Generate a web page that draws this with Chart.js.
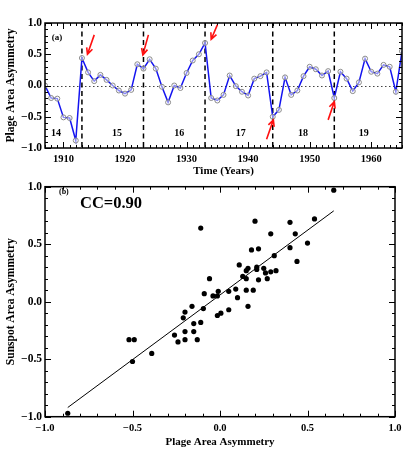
<!DOCTYPE html>
<html>
<head>
<meta charset="utf-8">
<script src="https://cdn.jsdelivr.net/npm/chart.js@4.4.1/dist/chart.umd.min.js"></script>
<style>
  html, body { margin: 0; padding: 0; background: #fff; }
  #wrap { position: relative; width: 407px; height: 465px; overflow: hidden; }
  canvas { position: absolute; left: 0; }
  #top { top: 0; }
  #bottom { top: 175px; }
</style>
</head>
<body>
<div id="wrap">
  <canvas id="top" width="407" height="180"></canvas>
  <canvas id="bottom" width="407" height="290"></canvas>
</div>
<script>
// panel (a): yearly plage area asymmetry
const years = [1907, 1908, 1909, 1910, 1911, 1912, 1913, 1914, 1915, 1916,
  1917, 1918, 1919, 1920, 1921, 1922, 1923, 1924, 1925, 1926,
  1927, 1928, 1929, 1930, 1931, 1932, 1933, 1934, 1935, 1936,
  1937, 1938, 1939, 1940, 1941, 1942, 1943, 1944, 1945, 1946,
  1947, 1948, 1949, 1950, 1951, 1952, 1953, 1954, 1955, 1956,
  1957, 1958, 1959, 1960, 1961, 1962, 1963, 1964, 1965];
const plageAsym = [0.00, -0.20, -0.21, -0.51, -0.52, -0.88, 0.44, 0.21, 0.07, 0.17,
  0.09, 0.00, -0.08, -0.13, -0.07, 0.34, 0.27, 0.42, 0.27, -0.02,
  -0.27, 0.00, -0.04, 0.20, 0.40, 0.50, 0.68, -0.20, -0.24, -0.15,
  0.16, -0.01, -0.10, -0.16, 0.11, 0.15, 0.21, -0.50, -0.39, 0.13,
  -0.15, -0.08, 0.15, 0.30, 0.26, 0.16, 0.23, -0.20, 0.22, 0.11,
  -0.09, 0.05, 0.43, 0.22, 0.19, 0.33, 0.30, -0.10, 0.55];
const cycleMinima = [1913, 1923, 1933, 1944, 1954];
const cycleNames = ['14', '15', '16', '17', '18', '19'];
const cycleNameYears = [1908.8, 1918.7, 1928.8, 1938.8, 1948.9, 1958.8];
const arrowFrom = [[1915.0, 0.81], [1923.8, 0.81], [1935.0, 0.97], [1943.0, -0.86], [1953.0, -0.55]];
const arrowTo = [[1913.9, 0.50], [1922.9, 0.49], [1934.0, 0.74], [1944.1, -0.55], [1954.0, -0.26]];
const yearTicks = [1910, 1920, 1930, 1940, 1950, 1960];
const asymTicks = [-1, -0.5, 0, 0.5, 1];

// panel (b): plage vs sunspot asymmetry
const plageX = [0.65, -0.11, 0.20, 0.40, 0.54, 0.29, 0.43, 0.50, 0.40, 0.18,
  0.22, 0.31, 0.44, 0.11, 0.16, 0.15, 0.21, 0.21, 0.25, 0.26,
  0.29, 0.32, 0.13, 0.15, 0.22, 0.27, -0.06, -0.09, 0.09, 0.05,
  -0.01, 0.15, 0.19, -0.04, -0.015, 0.10, -0.095, 0.05, 0.16, -0.015,
  0.005, -0.11, -0.16, -0.20, -0.21, -0.15, -0.20, -0.15, -0.26, -0.24,
  -0.20, -0.13, -0.52, -0.49, -0.39, -0.50, -0.87];
const sunspotY = [0.97, 0.64, 0.70, 0.69, 0.72, 0.59, 0.59, 0.51, 0.47, 0.45,
  0.46, 0.40, 0.35, 0.32, 0.29, 0.27, 0.30, 0.28, 0.29, 0.25,
  0.26, 0.27, 0.22, 0.20, 0.19, 0.20, 0.20, 0.07, 0.11, 0.09,
  0.09, 0.10, 0.10, 0.05, 0.05, 0.035, -0.06, -0.07, -0.04, -0.12,
  -0.10, -0.18, -0.04, -0.09, -0.14, -0.19, -0.26, -0.26, -0.29, -0.35,
  -0.33, -0.33, -0.33, -0.33, -0.45, -0.52, -0.97];
const fitX = [-0.87, 0.65];
const fitY = [-0.92, 0.79];

const serif = "'Liberation Serif', 'Times New Roman', serif";
const bold = (size) => ({ family: serif, size: size, weight: 'bold' });
const fmtAsym = (v) => (v < 0 ? '\u2212' : '') + Math.abs(v).toFixed(1);

function stepVals(min, max, step) {
  const out = [];
  for (let k = Math.ceil(min / step - 1e-9); k * step <= max + 1e-9; k++) out.push(k * step);
  return out;
}
function isMajor(v, major) {
  return Math.abs(v / major - Math.round(v / major)) < 1e-6;
}

// frame, inside ticks, guide lines, arrows and labels
const decor = {
  id: 'decor',
  beforeDatasetsDraw(chart, args, o) {
    const { ctx, chartArea: a, scales: { x, y } } = chart;
    ctx.save();
    if (o.zeroLine) {
      ctx.strokeStyle = '#444';
      ctx.lineWidth = 1;
      ctx.setLineDash([1.5, 2.5]);
      const py = Math.round(y.getPixelForValue(0)) + 0.5;
      ctx.beginPath(); ctx.moveTo(a.left, py); ctx.lineTo(a.right, py); ctx.stroke();
    }
    ctx.strokeStyle = '#000';
    ctx.lineWidth = 1.5;
    ctx.setLineDash([5, 3.5]);
    (o.vlines || []).forEach(v => {
      const px = x.getPixelForValue(v);
      ctx.beginPath(); ctx.moveTo(px, a.top); ctx.lineTo(px, a.bottom); ctx.stroke();
    });
    ctx.restore();
  },
  afterDatasetsDraw(chart, args, o) {
    const { ctx, chartArea: a, scales: { x, y } } = chart;
    ctx.save();
    ctx.strokeStyle = '#000';
    ctx.lineWidth = 1.5;
    ctx.strokeRect(a.left, a.top, a.right - a.left, a.bottom - a.top);

    ctx.lineWidth = 1;
    ctx.beginPath();
    stepVals(x.min, x.max, o.xMinor).forEach(v => {
      const len = isMajor(v, o.xMajor) ? 6 : 3;
      const px = Math.round(x.getPixelForValue(v)) + 0.5;
      ctx.moveTo(px, a.bottom); ctx.lineTo(px, a.bottom - len);
      ctx.moveTo(px, a.top); ctx.lineTo(px, a.top + len);
    });
    stepVals(y.min, y.max, o.yMinor).forEach(v => {
      const len = isMajor(v, o.yMajor) ? 6 : 3;
      const py = Math.round(y.getPixelForValue(v)) + 0.5;
      ctx.moveTo(a.left, py); ctx.lineTo(a.left + len, py);
      ctx.moveTo(a.right, py); ctx.lineTo(a.right - len, py);
    });
    ctx.stroke();

    (o.arrows || []).forEach(([from, to]) => {
      const x0 = x.getPixelForValue(from[0]), y0 = y.getPixelForValue(from[1]);
      const x1 = x.getPixelForValue(to[0]), y1 = y.getPixelForValue(to[1]);
      const ang = Math.atan2(y1 - y0, x1 - x0);
      ctx.strokeStyle = '#ff1010';
      ctx.lineWidth = 1.6;
      ctx.beginPath();
      ctx.moveTo(x0, y0); ctx.lineTo(x1, y1);
      ctx.moveTo(x1 - 7 * Math.cos(ang - 0.45), y1 - 7 * Math.sin(ang - 0.45));
      ctx.lineTo(x1, y1);
      ctx.lineTo(x1 - 7 * Math.cos(ang + 0.45), y1 - 7 * Math.sin(ang + 0.45));
      ctx.stroke();
    });

    ctx.fillStyle = '#000';
    ctx.textBaseline = 'middle';
    (o.texts || []).forEach(t => {
      ctx.font = 'bold ' + t.size + 'px ' + serif;
      ctx.textAlign = t.align || 'left';
      ctx.fillText(t.text, x.getPixelForValue(t.x), y.getPixelForValue(t.y));
    });
    ctx.restore();
  }
};

const baseOptions = {
  responsive: false,
  animation: false,
  devicePixelRatio: 1,
  events: []
};

// top panel
new Chart(document.getElementById('top'), {
  type: 'line',
  data: {
    datasets: [{
      data: years.map((yr, i) => ({ x: yr, y: plageAsym[i] })),
      borderColor: '#1414f0',
      borderWidth: 1.5,
      tension: 0,
      pointRadius: 2.5,
      pointBorderWidth: 1,
      pointBorderColor: '#8a8a8a',
      pointBackgroundColor: 'rgba(255,255,255,0.5)'
    }]
  },
  options: {
    ...baseOptions,
    layout: { padding: { left: 0, top: 23, right: 4, bottom: 0 } },
    plugins: {
      legend: { display: false },
      tooltip: { enabled: false },
      decor: {
        zeroLine: true,
        vlines: cycleMinima,
        arrows: arrowFrom.map((f, i) => [f, arrowTo[i]]),
        xMinor: 1, xMajor: 10, yMinor: 0.1, yMajor: 0.5,
        texts: [{ text: '(a)', x: 1908.1, y: 0.77, size: 9 }]
          .concat(cycleNames.map((n, i) => ({ text: n, x: cycleNameYears[i], y: -0.76, size: 10, align: 'center' })))
      }
    },
    scales: {
      x: {
        type: 'linear', min: 1907, max: 1965,
        afterBuildTicks: s => { s.ticks = yearTicks.map(v => ({ value: v })); },
        afterFit: s => { s.height = 32; },
        grid: { display: false, drawTicks: false },
        border: { display: false },
        ticks: { font: bold(10.5), color: '#000', padding: 5, maxRotation: 0, autoSkip: false, callback: v => String(v) },
        title: { display: true, text: 'Time (Years)', font: bold(11), color: '#000', padding: { top: 0, bottom: 2 } }
      },
      y: {
        type: 'linear', min: -1, max: 1,
        afterBuildTicks: s => { s.ticks = asymTicks.map(v => ({ value: v })); },
        afterFit: s => { s.width = 45; },
        grid: { display: false, drawTicks: false },
        border: { display: false },
        ticks: { font: bold(11.5), color: '#000', padding: 3, autoSkip: false, callback: fmtAsym },
        title: { display: true, text: 'Plage Area Asymmetry', font: bold(11.5), color: '#000', padding: { top: 4, bottom: 0 } }
      }
    }
  },
  plugins: [decor]
});

// bottom panel
new Chart(document.getElementById('bottom'), {
  type: 'scatter',
  data: {
    datasets: [{
      data: plageX.map((v, i) => ({ x: v, y: sunspotY[i] })),
      pointRadius: 2.6,
      pointBorderWidth: 0,
      pointBackgroundColor: '#000',
      pointBorderColor: '#000'
    }, {
      data: fitX.map((v, i) => ({ x: v, y: fitY[i] })),
      showLine: true,
      borderColor: '#000',
      borderWidth: 1,
      pointRadius: 0
    }]
  },
  options: {
    ...baseOptions,
    layout: { padding: { left: 0, top: 11.7, right: 12, bottom: 0 } },
    plugins: {
      legend: { display: false },
      tooltip: { enabled: false },
      decor: {
        xMinor: 0.1, xMajor: 0.5, yMinor: 0.1, yMajor: 0.5,
        texts: [
          { text: '(b)', x: -0.92, y: 0.955, size: 8 },
          { text: 'CC=0.90', x: -0.8, y: 0.85, size: 16.5 }
        ]
      }
    },
    scales: {
      x: {
        type: 'linear', min: -1, max: 1,
        afterBuildTicks: s => { s.ticks = asymTicks.map(v => ({ value: v })); },
        afterFit: s => { s.height = 48.3; },
        grid: { display: false, drawTicks: false },
        border: { display: false },
        ticks: { font: bold(10.5), color: '#000', padding: 5, maxRotation: 0, autoSkip: false, callback: fmtAsym },
        title: { display: true, text: 'Plage Area Asymmetry', font: bold(11), color: '#000', padding: { top: 0, bottom: 16.7 } }
      },
      y: {
        type: 'linear', min: -1, max: 1,
        afterBuildTicks: s => { s.ticks = asymTicks.map(v => ({ value: v })); },
        afterFit: s => { s.width = 45; },
        grid: { display: false, drawTicks: false },
        border: { display: false },
        ticks: { font: bold(11.5), color: '#000', padding: 3, autoSkip: false, callback: fmtAsym },
        title: { display: true, text: 'Sunspot Area Asymmetry', font: bold(11.5), color: '#000', padding: { top: 4, bottom: 0 } }
      }
    }
  },
  plugins: [decor]
});
</script>
</body>
</html>
